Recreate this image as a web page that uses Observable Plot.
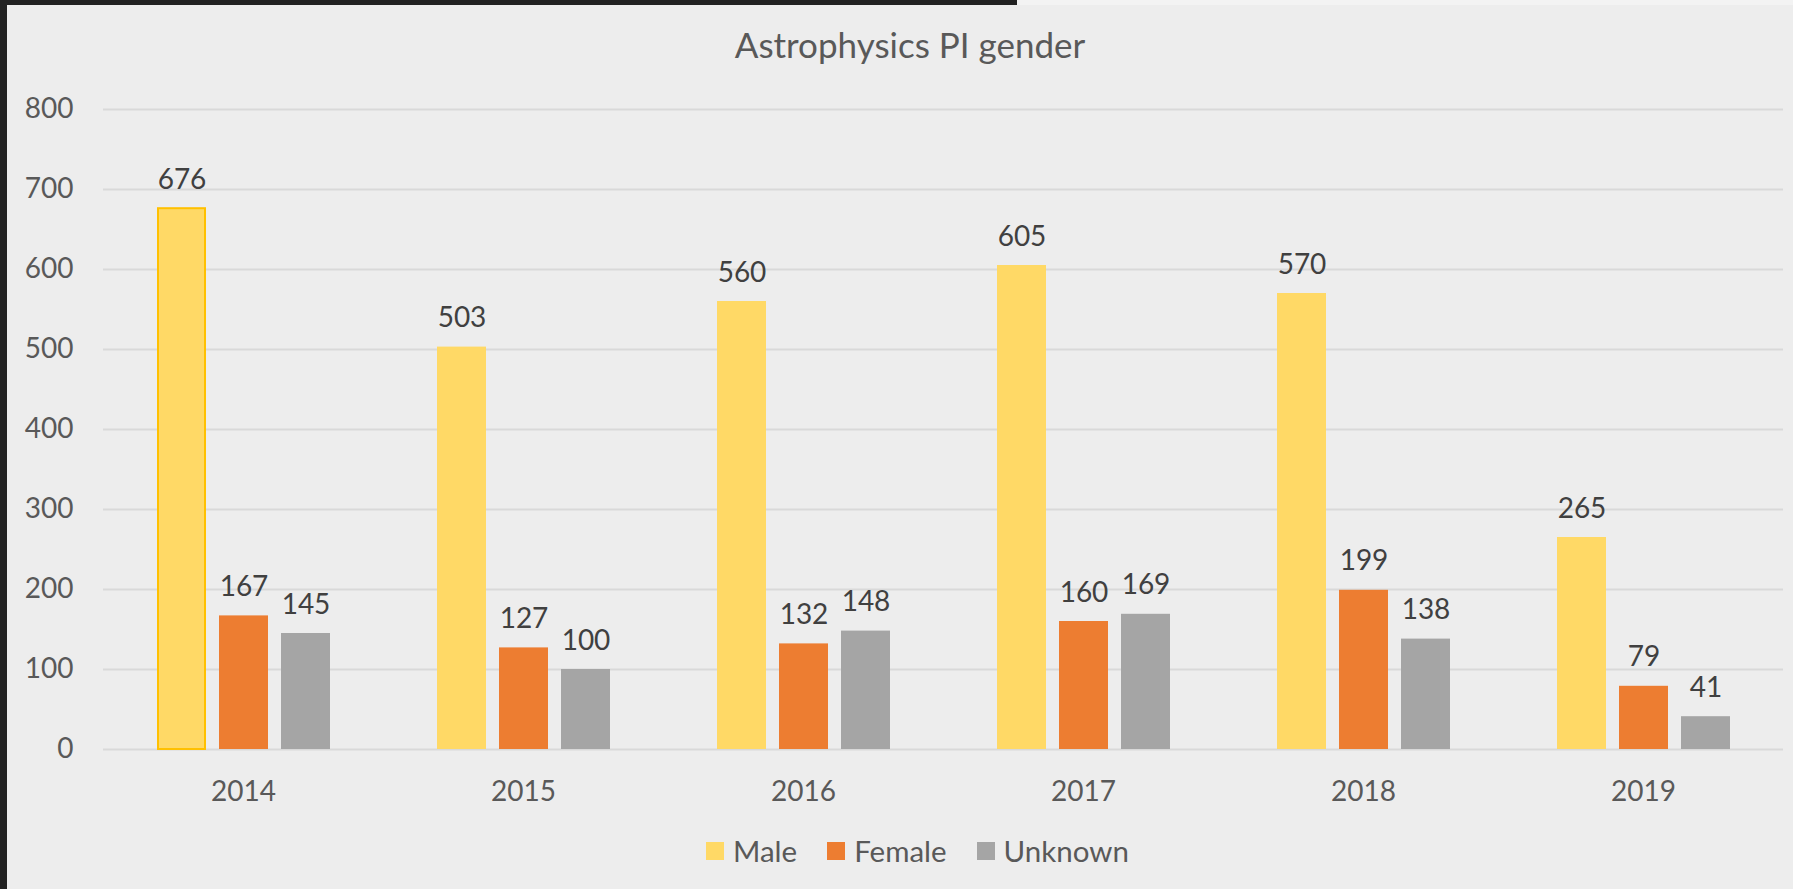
<!DOCTYPE html>
<html>
<head>
<meta charset="utf-8">
<script src="https://cdn.jsdelivr.net/npm/d3@7"></script>
<script src="https://cdn.jsdelivr.net/npm/@observablehq/plot@0.6"></script>
<style>
  html, body { margin: 0; padding: 0; }
  body { width: 1793px; height: 889px; background: #222222; position: relative; overflow: hidden; font-family: Lato, "Open Sans", sans-serif; }
  #panel { position: absolute; left: 7px; top: 5px; right: 0; bottom: 0; background: #ededed; }
  #strip { position: absolute; left: 1017px; top: 0; right: 0; height: 5px; background: #f3f3f3; }
  #chart { position: absolute; left: 0; top: 0; }
  #title { position: absolute; left: 0; width: 1820px; top: 23px; text-align: center; font-size: 35px; color: #595959; white-space: nowrap; }
  #legend { position: absolute; left: 706px; top: 833px; display: flex; align-items: center; font-size: 29.5px; color: #595959; }
  #legend .item { display: flex; align-items: center; margin-right: 30px; }
  #legend .sw { width: 18px; height: 18px; margin-right: 9px; }
</style>
</head>
<body>
<div id="panel"></div>
<div id="strip"></div>
<div id="chart"></div>
<div id="title">Astrophysics PI gender</div>
<div id="legend"></div>
<script>
const years = [2014, 2015, 2016, 2017, 2018, 2019];
const genders = ["Male", "Female", "Unknown"];
const male = [676, 503, 560, 605, 570, 265];
const female = [167, 127, 132, 160, 199, 79];
const unknown = [145, 100, 148, 169, 138, 41];
const colors = ["#FFD966", "#ED7D31", "#A5A5A5"];
const yTicks = [0, 100, 200, 300, 400, 500, 600, 700, 800];

const series = [male, female, unknown];
const data = [];
years.forEach((yr, i) => {
  genders.forEach((g, j) => {
    data.push({year: yr, gender: g, value: series[j][i]});
  });
});

const chart = Plot.plot({
  width: 1793,
  height: 889,
  marginLeft: 103,
  marginRight: 10,
  marginTop: 109,
  marginBottom: 140,
  style: {background: "transparent", fontFamily: "Lato, 'Open Sans', sans-serif", fontSize: "28px", color: "#595959"},
  fx: {domain: years, padding: 0, label: null, tickSize: 0, tickPadding: 32, tickFormat: d => String(d)},
  x: {domain: genders, paddingInner: 0.21, paddingOuter: 0.863, axis: null},
  y: {domain: [0, 800], ticks: yTicks, tickSize: 0, tickPadding: 30, label: null},
  color: {domain: genders, range: colors},
  marks: [
    Plot.ruleY(yTicks, {stroke: "#d9d9d9", strokeWidth: 2}),
    Plot.barY(data, {fx: "year", x: "gender", y: "value", fill: "gender"}),
    Plot.barY(data.filter(d => d.year === 2014 && d.gender === "Male"),
      {fx: "year", x: "gender", y: "value", fill: "none", stroke: "#FFC000", strokeWidth: 2, insetLeft: 1, insetRight: 1}),
    Plot.text(data, {fx: "year", x: "gender", y: "value", text: d => String(d.value),
      dy: -20, lineAnchor: "bottom", fill: "#404040", fontSize: 28})
  ]
});
document.getElementById("chart").appendChild(chart);

const legend = document.getElementById("legend");
genders.forEach((g, j) => {
  const item = document.createElement("div");
  item.className = "item";
  const sw = document.createElement("div");
  sw.className = "sw";
  sw.style.background = colors[j];
  const lab = document.createElement("span");
  lab.textContent = g;
  item.appendChild(sw);
  item.appendChild(lab);
  legend.appendChild(item);
});
</script>
</body>
</html>
